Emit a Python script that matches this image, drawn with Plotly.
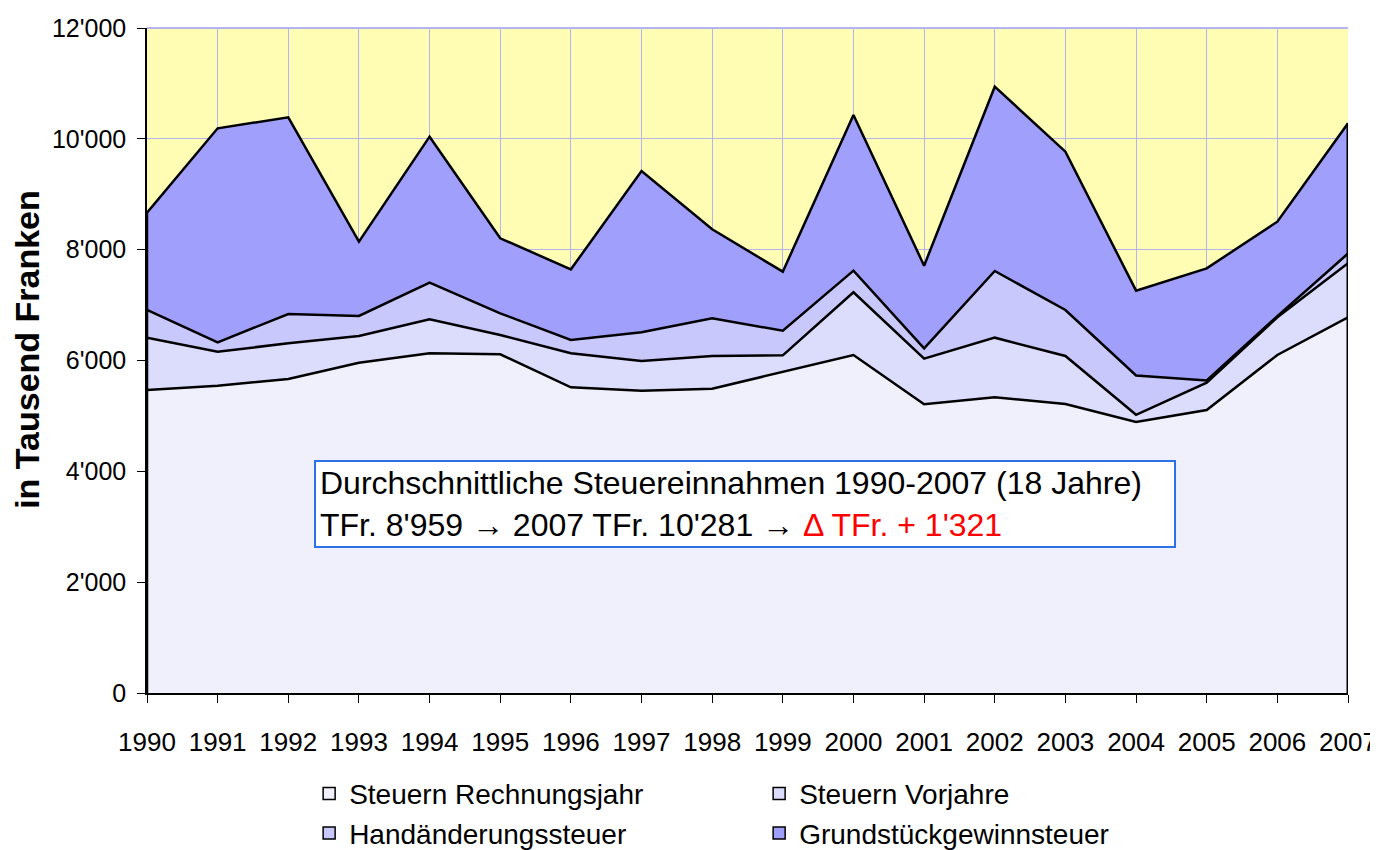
import plotly.graph_objects as go

years = list(range(1990, 2008))
series_names = ["Steuern Rechnungsjahr", "Steuern Vorjahre", "Handänderungssteuer", "Grundstückgewinnsteuer"]
rechnungsjahr = [5468, 5545, 5666, 5960, 6130, 6112, 5516, 5455, 5491, 5798, 6099, 5209, 5336, 5215, 4890, 5107, 6099, 6779]
vorjahre = [944, 614, 644, 482, 613, 348, 614, 536, 590, 295, 1132, 824, 1076, 866, 130, 493, 681, 975]
handaenderung = [500, 169, 529, 361, 661, 391, 240, 518, 680, 445, 390, 187, 1203, 831, 710, 40, 20, 177]
grundstueck = [1756, 3862, 3549, 1341, 2635, 1354, 1275, 2911, 1606, 1065, 2809, 1491, 3326, 2856, 1530, 2023, 1705, 2350]
y_ticks = [0, 2000, 4000, 6000, 8000, 10000, 12000]

fills = ["#F0F0FC", "#DCDCFC", "#C8C8FC", "#A0A0FC"]
values = [rechnungsjahr, vorjahre, handaenderung, grundstueck]

FONT = "Liberation Sans, Arial, sans-serif"

fig = go.Figure()
for name, vals, col in zip(series_names, values, fills):
    fig.add_trace(go.Scatter(
        x=years, y=vals, name=name, mode="lines", stackgroup="one",
        line=dict(color="black", width=2.5), fillcolor=col,
        hoverinfo="x+y+name", showlegend=False,
    ))
# legend-only entries (square swatches with black border)
for name, col in zip(series_names, fills):
    fig.add_trace(go.Bar(x=[None], y=[None], name=name,
                         marker=dict(color=col, line=dict(color="black", width=1.5)),
                         showlegend=True, hoverinfo="skip"))

totals = [sum(v) for v in zip(*values)]

shapes = [
    dict(type="line", xref="x", yref="y", x0=years[0], x1=years[0], y0=0, y1=totals[0],
         line=dict(color="black", width=2.5)),
    dict(type="line", xref="x", yref="y", x0=years[-1], x1=years[-1], y0=0, y1=totals[-1],
         line=dict(color="black", width=3)),
    dict(type="line", xref="paper", yref="paper", x0=0, x1=1, y0=1, y1=1,
         line=dict(color="#B4B4F0", width=2)),
]

fig.update_layout(
    width=1370, height=842,
    margin=dict(l=139, r=30, t=20, b=157, autoexpand=False),
    paper_bgcolor="white", plot_bgcolor="#FFFDB3",
    separators=".'",
    font=dict(family=FONT, size=24, color="black"),
    showlegend=True,
    legend=dict(orientation="h", x=0.135, y=-0.114, xanchor="left", yanchor="top",
                traceorder="normal", entrywidth=405, entrywidthmode="pixels",
                font=dict(size=28, family=FONT), bgcolor="rgba(0,0,0,0)"),
    shapes=shapes,
    xaxis=dict(range=[years[0], years[-1]], tickmode="array", tickvals=years,
               ticktext=[str(y) for y in years], showgrid=True, gridcolor="#B4B4F0", gridwidth=1,
               showline=True, linecolor="black", linewidth=2, ticks="outside", ticklen=8,
               tickcolor="black", tickfont=dict(size=26, family=FONT), tickangle=0,
               zeroline=False, ticklabelstandoff=17, automargin=False),
    yaxis=dict(range=[0, 12000], tickmode="array", tickvals=y_ticks, tickformat=",d",
               showgrid=True, gridcolor="#B4B4F0", gridwidth=1,
               showline=True, linecolor="black", linewidth=1.5, ticks="outside", ticklen=8,
               tickcolor="black", tickfont=dict(size=25, family=FONT), zeroline=False,
               ticklabelstandoff=6, automargin=False),
    annotations=[
        dict(xref="paper", yref="paper", x=(27 - 147) / 1201, y=0.516, textangle=-90,
             text="<b>in Tausend Franken</b>", showarrow=False,
             font=dict(size=34, family=FONT), xanchor="center", yanchor="middle"),
        dict(xref="paper", yref="paper", x=(314 - 147) / 1201, y=(693 - 460) / 665,
             xanchor="left", yanchor="top", align="left", showarrow=False,
             text="Durchschnittliche Steuereinnahmen 1990-2007 (18 Jahre)<br>"
                  "TFr. 8'959 → 2007 TFr. 10'281 → <span style='color:#FF0000'>Δ TFr. + 1'321</span>",
             font=dict(size=32, family=FONT),
             bgcolor="white", bordercolor="#2F6FE8", borderwidth=2, borderpad=4,
             width=850, height=76),
    ],
)

fig.write_html("out.html")
